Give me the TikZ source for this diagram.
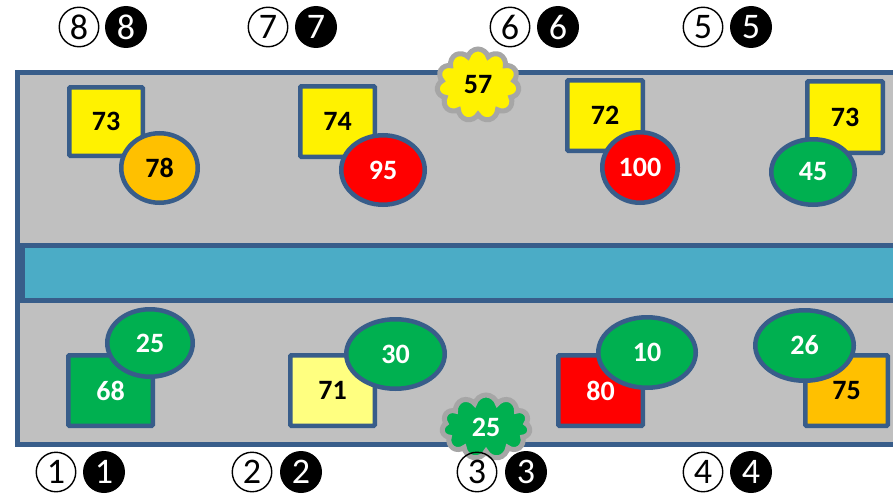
\documentclass[tikz,border=0pt]{standalone}
\usepackage{fontspec}
\setmainfont{Carlito}
\usetikzlibrary{shapes.geometric,shapes.symbols}

\definecolor{edge}{RGB}{56,93,138}
\definecolor{floor}{RGB}{192,192,192}
\definecolor{channel}{RGB}{75,172,198}
\definecolor{okgreen}{RGB}{0,176,80}
\definecolor{warnorange}{RGB}{255,192,0}
\definecolor{paleyellow}{RGB}{255,255,128}
\definecolor{puffgray}{RGB}{166,166,166}

\tikzset{
  val/.style={font=\bfseries\fontsize{28}{28}\selectfont},
  box/.style={rectangle, draw=edge, line width=4.5pt, rounded corners=1pt,
    inner sep=0pt, val},
  oval/.style={ellipse, draw=edge, line width=4.5pt, inner sep=0pt, val},
  puff/.style={cloud, cloud puffs=11, cloud puff arc=150, draw=puffgray,
    line width=5pt, inner sep=0pt, val},
  % circled position numbers: outlined and solid variants
  ringnum/.style={circle, draw=black, line width=1.4pt, minimum size=39.5pt,
    inner sep=0pt, font=\fontsize{36}{36}\selectfont},
  dotnum/.style={circle, fill=black, text=white, minimum size=42pt,
    inner sep=0pt, font=\fontsize{36}{36}\selectfont},
}

\begin{document}
\begin{tikzpicture}[x=1pt,y=-1pt]
  \useasboundingbox (0,0) rectangle (893,495);
  \clip (0,0) rectangle (893,495);

  % floor and central channel
  \node[draw=edge, fill=floor, line width=5pt, rectangle, inner sep=0pt,
        minimum width=900pt, minimum height=372pt, anchor=north west]
        (floorarea) at (14.5,69.5) {};
  \node[draw=edge, fill=channel, line width=5pt, rectangle, inner sep=0pt,
        minimum width=900pt, minimum height=55pt, anchor=north west]
        (channelband) at (19.5,242.5) {};

  % upper row
  \node[box, fill=yellow, minimum width=73.5pt, minimum height=68.5pt] (s8) at (106,121.5) {73};
  \node[oval, fill=warnorange, minimum width=76.5pt, minimum height=69.5pt] (e8) at (159.5,168) {78};

  \node[box, fill=yellow, minimum width=74.5pt, minimum height=70.5pt] (s7) at (337.5,121.5) {74};
  \node[oval, fill=red, text=white, minimum width=83.5pt, minimum height=69.5pt] (e7) at (383,170) {95};

  \node[box, fill=yellow, minimum width=75.5pt, minimum height=70.5pt] (s6) at (605,115.5) {72};
  \node[oval, fill=red, text=white, minimum width=75.5pt, minimum height=70.5pt] (e6) at (640,167.5) {100};

  \node[box, fill=yellow, minimum width=75.5pt, minimum height=71.5pt] (s5) at (845,117) {73};
  \node[oval, fill=okgreen, text=white, minimum width=83.5pt, minimum height=65.5pt] (e5) at (813,172) {45};

  \node[puff, fill=yellow, minimum width=82pt, minimum height=72pt] (c6) at (478,85) {57};

  % lower row
  \node[box, fill=okgreen, text=white, minimum width=84.5pt, minimum height=70.5pt] (s1) at (110.5,390.5) {68};
  \node[oval, fill=okgreen, text=white, minimum width=85.5pt, minimum height=67.5pt] (e1) at (150,343) {25};

  \node[box, fill=paleyellow, minimum width=84.5pt, minimum height=70.5pt] (s2) at (332.5,390.5) {71};
  \node[oval, fill=okgreen, text=white, minimum width=98.5pt, minimum height=69.5pt] (e2) at (395.5,354) {30};

  \node[box, fill=red, text=white, minimum width=84.5pt, minimum height=70.5pt] (s3) at (600.5,390.5) {80};
  \node[oval, fill=okgreen, text=white, minimum width=97.5pt, minimum height=70.5pt] (e3) at (647,352.5) {10};

  \node[box, fill=warnorange, minimum width=82.5pt, minimum height=70.5pt] (s4) at (846.5,390.5) {75};
  \node[oval, fill=okgreen, text=white, minimum width=98.5pt, minimum height=70.5pt] (e4) at (804.5,345.5) {26};

  \node[puff, fill=okgreen, text=white, minimum width=88pt, minimum height=64pt] (c3) at (486,427) {25};

  % position indices
  \node[ringnum] (i8a) at (79,27) {8};  \node[dotnum] (i8b) at (126,27) {8};
  \node[ringnum] (i7a) at (268,27) {7}; \node[dotnum] (i7b) at (316,27) {7};
  \node[ringnum] (i6a) at (510,27) {6}; \node[dotnum] (i6b) at (558,27) {6};
  \node[ringnum] (i5a) at (703,27) {5}; \node[dotnum] (i5b) at (751,27) {5};

  \node[ringnum] (i1a) at (56,472) {1};  \node[dotnum] (i1b) at (104,472) {1};
  \node[ringnum] (i2a) at (252,472) {2}; \node[dotnum] (i2b) at (301,472) {2};
  \node[ringnum] (i3a) at (477,472) {3}; \node[dotnum] (i3b) at (526,472) {3};
  \node[ringnum] (i4a) at (703,472) {4}; \node[dotnum] (i4b) at (751,472) {4};
\end{tikzpicture}
\end{document}
